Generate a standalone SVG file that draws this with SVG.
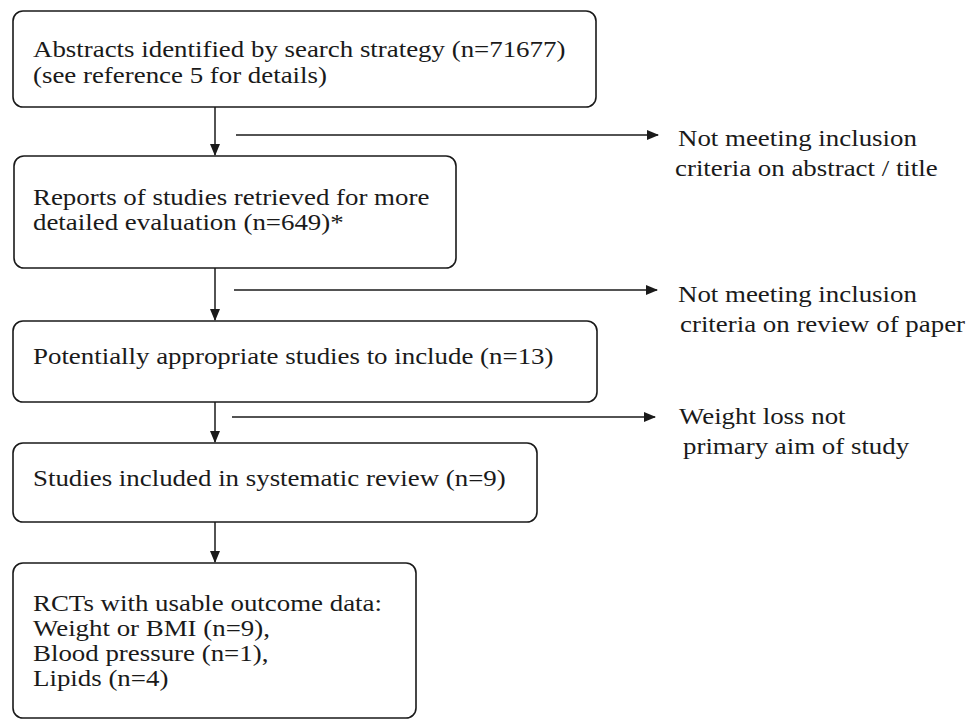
<svg xmlns="http://www.w3.org/2000/svg" width="968" height="721" viewBox="0 0 968 721">
<defs>
<marker id="ah" markerWidth="12" markerHeight="10" refX="11" refY="5" orient="auto" markerUnits="userSpaceOnUse">
<path d="M0,0 L12,5 L0,10 Z" fill="#1a1a1a"/>
</marker>
</defs>
<style>
.box{fill:#fff;stroke:#1a1a1a;stroke-width:1.6}
.t{font-family:"Liberation Serif","Times New Roman",serif;font-size:22.5px;fill:#1a1a1a}
.c{stroke:#1a1a1a;stroke-width:1.5;fill:none;marker-end:url(#ah)}
</style>
<rect width="968" height="721" fill="#fff"/>
<g id="n1">
<rect class="box" x="13" y="11" width="583" height="96" rx="10"/>
<text class="t" transform="translate(33,57) scale(1.195,1)">Abstracts identified by search strategy (n=71677)</text>
<text class="t" transform="translate(33,83) scale(1.195,1)">(see reference 5 for details)</text>
</g>
<g id="n2">
<rect class="box" x="14" y="156" width="442" height="112" rx="10"/>
<text class="t" transform="translate(33,205) scale(1.195,1)">Reports of studies retrieved for more</text>
<text class="t" transform="translate(33,230) scale(1.195,1)">detailed evaluation (n=649)*</text>
</g>
<g id="n3">
<rect class="box" x="13" y="321" width="584" height="81" rx="10"/>
<text class="t" transform="translate(33,364) scale(1.195,1)">Potentially appropriate studies to include (n=13)</text>
</g>
<g id="n4">
<rect class="box" x="13" y="443" width="524" height="79" rx="10"/>
<text class="t" transform="translate(33,486) scale(1.195,1)">Studies included in systematic review (n=9)</text>
</g>
<g id="n5">
<rect class="box" x="13" y="563" width="403" height="155" rx="10"/>
<text class="t" transform="translate(33,611) scale(1.195,1)">RCTs with usable outcome data:</text>
<text class="t" transform="translate(33,636) scale(1.195,1)">Weight or BMI (n=9),</text>
<text class="t" transform="translate(33,661) scale(1.195,1)">Blood pressure (n=1),</text>
<text class="t" transform="translate(33,686) scale(1.195,1)">Lipids (n=4)</text>
</g>
<g id="x1">
<text class="t" transform="translate(678,146) scale(1.195,1)">Not meeting inclusion</text>
<text class="t" transform="translate(675,176) scale(1.195,1)">criteria on abstract / title</text>
</g>
<g id="x2">
<text class="t" transform="translate(678,302) scale(1.195,1)">Not meeting inclusion</text>
<text class="t" transform="translate(680,332) scale(1.195,1)">criteria on review of paper</text>
</g>
<g id="x3">
<text class="t" transform="translate(679,424) scale(1.195,1)">Weight loss not</text>
<text class="t" transform="translate(683,454) scale(1.195,1)">primary aim of study</text>
</g>
<g id="connectors">
<line class="c" x1="215" y1="107" x2="215" y2="155"/>
<line class="c" x1="215" y1="268" x2="215" y2="320"/>
<line class="c" x1="215" y1="402" x2="215" y2="442"/>
<line class="c" x1="215" y1="522" x2="215" y2="562"/>
<line class="c" x1="236" y1="135" x2="658" y2="135"/>
<line class="c" x1="234" y1="290" x2="657" y2="290"/>
<line class="c" x1="232" y1="417" x2="655" y2="417"/>
</g>
</svg>
